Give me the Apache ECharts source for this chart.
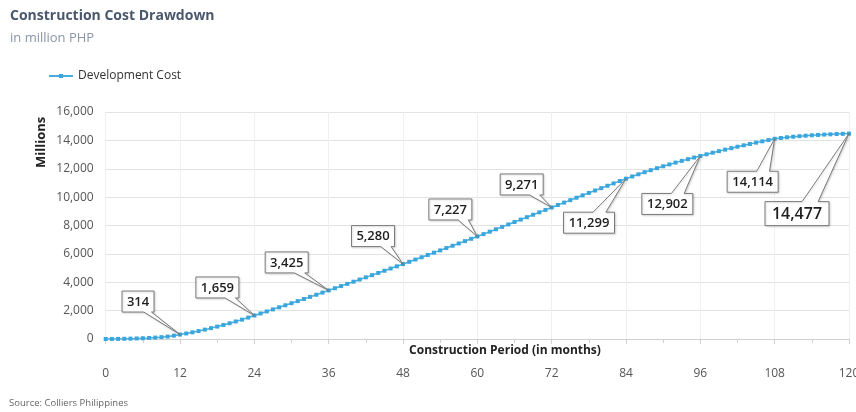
<!DOCTYPE html>
<html>
<head>
<meta charset="utf-8">
<script src="https://cdn.jsdelivr.net/npm/echarts@6/dist/echarts.min.js"></script>
<style>
html,body{margin:0;padding:0;background:#fff;}
#chart{width:856px;height:412px;}
</style>
</head>
<body>
<div id="chart"></div>
<script>
// Development cost by month (0..120), million PHP
const devCost = [
  0, 3, 8, 15, 25, 38, 54, 74, 99, 130, 170, 235, 314,
  390, 470, 560, 660, 765, 875, 990, 1110, 1235, 1365, 1510, 1659,
  1800, 1942, 2086, 2232, 2378, 2524, 2670, 2818, 2968, 3118, 3270, 3425,
  3578, 3731, 3884, 4038, 4192, 4346, 4500, 4655, 4810, 4966, 5123, 5280,
  5440, 5601, 5762, 5923, 6085, 6247, 6409, 6571, 6734, 6898, 7062, 7227,
  7395, 7564, 7734, 7904, 8074, 8245, 8416, 8586, 8757, 8928, 9099, 9271,
  9443, 9615, 9786, 9957, 10127, 10296, 10465, 10633, 10800, 10967, 11133, 11299,
  11457, 11610, 11758, 11901, 12040, 12175, 12306, 12433, 12556, 12675, 12790, 12902,
  13018, 13131, 13241, 13348, 13452, 13553, 13651, 13747, 13841, 13933, 14024, 14114,
  14169, 14217, 14259, 14296, 14329, 14358, 14384, 14407, 14428, 14446, 14462, 14477
];
const calloutMonths = [12, 24, 36, 48, 60, 72, 84, 96, 108, 120];
const xTicks = [0, 12, 24, 36, 48, 60, 72, 84, 96, 108, 120];
const yTicks = [0, 2000, 4000, 6000, 8000, 10000, 12000, 14000, 16000];
const seriesName = 'Development Cost';

// styling: callout box offsets (px) from the data point
const calloutOffsets = [
  [-42, -33], [-37, -28], [-42, -28], [-30, -28], [-27, -27],
  [-30, -23], [-37, 44], [-33, 48], [-22, 43], [-52, 80]
];

const fmt = v => v.toLocaleString('en-US');
const measureCtx = document.createElement('canvas').getContext('2d');
function textW(font, s){ measureCtx.font = font; return measureCtx.measureText(s).width; }

const chart = echarts.init(document.getElementById('chart'), null, {renderer: 'canvas'});
const lineData = devCost.map((v, i) => [i, v]);
const calloutData = calloutMonths.map(m => [m, devCost[m]]);

const option = {
  animation: false,
  backgroundColor: '#ffffff',
  textStyle: {fontFamily: '"Open Sans", sans-serif'},
  title: [
    {text: 'Construction Cost Drawdown', left: 5, top: 4,
     textStyle: {fontFamily: '"Open Sans", sans-serif', fontSize: 14, fontWeight: 'bold', color: '#4a586d'}},
    {text: 'in million PHP', left: 5, top: 27,
     textStyle: {fontFamily: '"Open Sans", sans-serif', fontSize: 13, fontWeight: 'normal', color: '#8a95a5'}},
    {text: 'Source: Colliers Philippines', left: 4, top: 393,
     textStyle: {fontFamily: '"Open Sans", sans-serif', fontSize: 9.5, fontWeight: 'normal', color: '#666'}}
  ],
  legend: {
    data: [seriesName], left: 43, top: 65, itemWidth: 24, itemHeight: 5, itemGap: 5,
    textStyle: {fontFamily: '"Open Sans", sans-serif', fontSize: 12, color: '#333'}
  },
  grid: {left: 105.7, right: 7, top: 112, bottom: 73, outerBoundsMode: 'none', containLabel: false},
  xAxis: {
    type: 'value', min: xTicks[0], max: xTicks[xTicks.length - 1], interval: xTicks[1] - xTicks[0],
    axisLine: {show: true, lineStyle: {color: '#d0d0d0', width: 1}},
    axisTick: {show: true, inside: false, length: 5, lineStyle: {color: '#d0d0d0'}},
    minorTick: {show: true, splitNumber: 2, length: 4, lineStyle: {color: '#d0d0d0'}},
    axisLabel: {margin: 29, fontSize: 12, color: '#555', fontFamily: '"Open Sans", sans-serif'},
    splitLine: {show: true, lineStyle: {color: '#f0f0f0', width: 1}}
  },
  yAxis: {
    type: 'value', min: yTicks[0], max: yTicks[yTicks.length - 1], interval: yTicks[1] - yTicks[0],
    axisLine: {show: false}, axisTick: {show: false},
    axisLabel: {margin: 12, fontSize: 12, color: '#555', fontFamily: '"Open Sans", sans-serif',
      formatter: v => fmt(v)},
    splitLine: {show: true, lineStyle: {color: '#e3e3e3', width: 1}}
  },
  graphic: [
    {type: 'text', rotation: Math.PI / 2, position: [35, 168],
     style: {text: 'Millions', x: 0, y: 0, font: 'bold 13px "Open Sans", sans-serif', fill: '#222'}},
    {type: 'text', position: [505, 351],
     style: {text: 'Construction Period (in months)', font: 'bold 12px "Open Sans", sans-serif',
       fill: '#222', textAlign: 'center', textVerticalAlign: 'middle'}}
  ],
  series: [
    {
      name: seriesName, type: 'line', data: lineData, symbol: 'rect', symbolSize: 4,
      showAllSymbol: true,
      lineStyle: {color: '#45aee0', width: 1.5},
      itemStyle: {color: '#3ba6dc', borderWidth: 0},
      z: 2
    },
    {
      type: 'custom', data: calloutData, z: 5, silent: true,
      renderItem: function (params, api) {
        const idx = params.dataIndex;
        const p = api.coord([api.value(0), api.value(1)]);
        const off = calloutOffsets[idx];
        const big = idx === calloutMonths.length - 1;
        const font = big ? '600 16px "Open Sans", sans-serif' : '600 13px "Open Sans", sans-serif';
        const label = fmt(api.value(1));
        const w = Math.round(textW(font, label) + (big ? 14 : 10));
        const h = big ? 24 : 21;
        const cx = p[0] + off[0], cy = p[1] + off[1];
        const l = cx - w / 2, r = cx + w / 2, t = cy - h / 2, b = cy + h / 2;
        let pts;
        if (off[1] < 0) {
          const a = cx + w * 0.18, bb = cx + w * 0.42;
          pts = [[l, t], [r, t], [r, b], [bb, b], [p[0], p[1]], [a, b], [l, b]];
        } else {
          const a = cx + w * 0.08, bb = cx + w * 0.33;
          pts = [[l, t], [a, t], [p[0], p[1]], [bb, t], [r, t], [r, b], [l, b]];
        }
        return {
          type: 'group',
          children: [
            {type: 'polygon', shape: {points: pts},
             style: {fill: '#ffffff', stroke: '#7a7a7a', lineWidth: 1,
               shadowBlur: 2, shadowColor: 'rgba(0,0,0,0.15)', shadowOffsetX: 1, shadowOffsetY: 1}},
            {type: 'text', style: {text: label, x: cx, y: cy + 0.5, font: font, fill: '#1e1e1e',
               textAlign: 'center', textVerticalAlign: 'middle'}}
          ]
        };
      }
    }
  ]
};
chart.setOption(option);
</script>
</body>
</html>
